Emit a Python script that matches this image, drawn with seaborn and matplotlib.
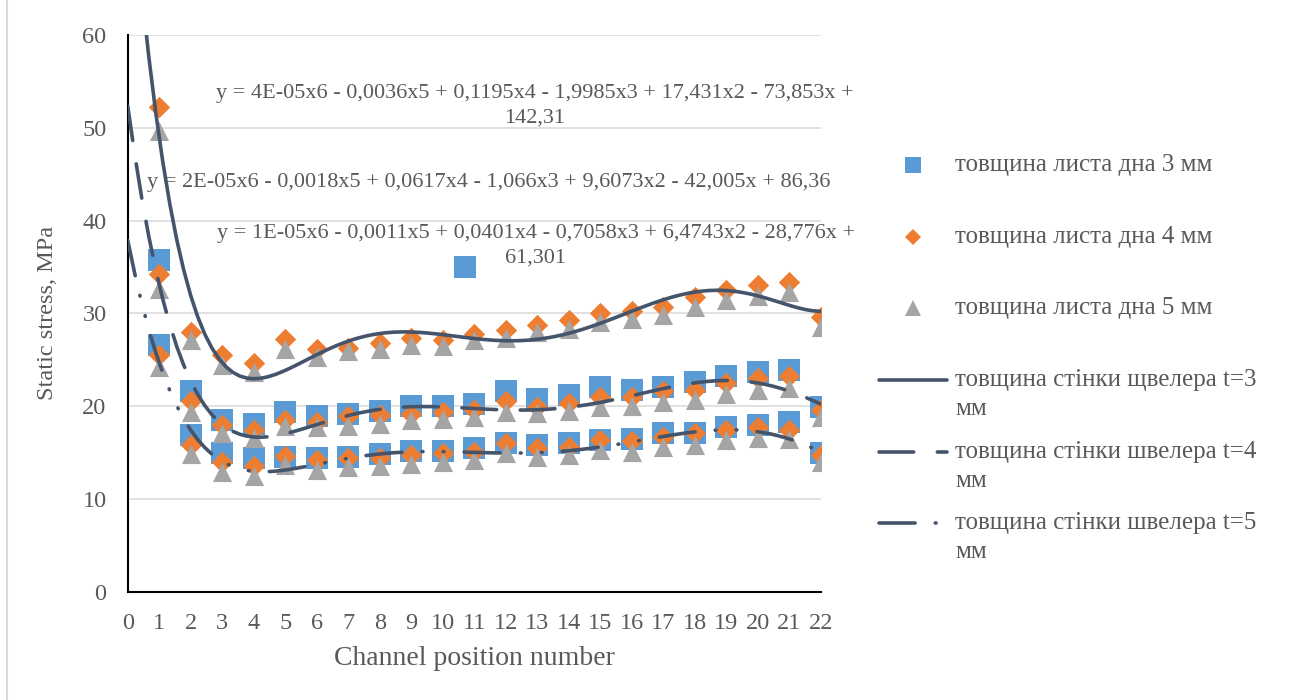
import numpy as np
import pandas as pd
import matplotlib
matplotlib.use("Agg")
import matplotlib.pyplot as plt
from matplotlib.lines import Line2D
import seaborn as sns

# Channel positions along the tank bottom
positions = list(range(1, 23))

# Static stress, MPa. Keys: bottom sheet thickness (mm); groups: channel wall thickness t (mm)
# wall t=3 mm
sheet4_t3 = [52.2, 28.0, 25.5, 24.7, 27.2, 26.2, 26.3, 26.8, 27.3, 27.1, 27.8,
             28.2, 28.7, 29.3, 30.0, 30.3, 30.7, 31.8, 32.5, 33.0, 33.4, 29.6]
sheet5_t3 = [49.7, 27.1, 24.4, 23.7, 26.2, 25.3, 25.9, 26.2, 26.6, 26.5, 27.1,
             27.3, 28.0, 28.3, 29.1, 29.4, 29.8, 30.7, 31.4, 31.9, 32.3, 28.5]
# wall t=4 mm
sheet3_t4 = [35.7, 21.6, 18.5, 18.1, 19.4, 18.9, 19.1, 19.5, 20.0, 20.0, 20.2,
             21.6, 20.8, 21.2, 22.1, 21.7, 22.1, 22.6, 23.2, 23.7, 23.9, 19.9]
sheet4_t4 = [34.2, 20.5, 18.0, 17.4, 18.5, 18.3, 18.9, 19.0, 19.2, 19.4, 19.6,
             20.5, 19.9, 20.3, 21.0, 21.0, 21.6, 21.7, 22.5, 23.0, 23.2, 19.6]
sheet5_t4 = [32.6, 19.4, 17.1, 16.6, 17.9, 17.7, 17.9, 18.1, 18.5, 18.6, 18.8,
             19.4, 19.3, 19.5, 19.9, 20.0, 20.4, 20.7, 21.3, 21.7, 22.0, 18.8]
# wall t=5 mm
sheet3_t5 = [26.6, 16.9, 15.0, 14.4, 14.5, 14.4, 14.5, 14.8, 15.2, 15.2, 15.5,
             16.0, 15.8, 16.0, 16.3, 16.5, 17.1, 17.1, 17.7, 18.0, 18.3, 14.9]
sheet4_t5 = [25.5, 15.8, 14.0, 13.5, 14.6, 14.2, 14.4, 14.4, 14.7, 14.9, 15.1,
             16.0, 15.5, 15.6, 16.3, 16.2, 16.7, 17.1, 17.4, 17.8, 17.4, 14.7]
sheet5_t5 = [24.2, 14.8, 12.9, 12.5, 13.7, 13.1, 13.4, 13.6, 13.8, 14.0, 14.2,
             14.9, 14.5, 14.7, 15.3, 15.1, 15.6, 15.8, 16.3, 16.6, 16.5, 14.0]
# single extra point of the 3 mm sheet series
extra_x = [10.7]
extra_y = [35.0]

sheet_labels = ["товщина листа дна 3 мм", "товщина листа дна 4 мм", "товщина листа дна 5 мм"]
wall_labels = ["товщина стінки щвелера t=3\nмм", "товщина стінки швелера t=4\nмм",
               "товщина стінки швелера t=5\nмм"]
equations = [
    "y = 4E-05x6 - 0,0036x5 + 0,1195x4 - 1,9985x3 + 17,431x2 - 73,853x +\n142,31",
    "y = 2E-05x6 - 0,0018x5 + 0,0617x4 - 1,066x3 + 9,6073x2 - 42,005x + 86,36",
    "y = 1E-05x6 - 0,0011x5 + 0,0401x4 - 0,7058x3 + 6,4743x2 - 28,776x +\n61,301",
]
y_ticks = [0, 10, 20, 30, 40, 50, 60]
x_ticks = list(range(0, 23))

rows = []
for sheet, wall, vals in [(3, 4, sheet3_t4), (3, 5, sheet3_t5),
                          (4, 3, sheet4_t3), (4, 4, sheet4_t4), (4, 5, sheet4_t5),
                          (5, 3, sheet5_t3), (5, 4, sheet5_t4), (5, 5, sheet5_t5)]:
    for p, v in zip(positions, vals):
        rows.append({"position": p, "stress": v, "sheet": sheet, "wall": wall})
for p, v in zip(extra_x, extra_y):
    rows.append({"position": p, "stress": v, "sheet": 3, "wall": 0})
df = pd.DataFrame(rows)

sns.set_theme(style="white")
plt.rcParams["font.family"] = ["Liberation Serif", "DejaVu Serif"]
plt.rcParams["lines.scale_dashes"] = False

TEXT = "#595959"
LINE = "#44546A"
LW = 2.6
sheet_colors = {3: "#5B9BD5", 4: "#ED7D31", 5: "#A5A5A5"}
sheet_markers = {3: "s", 4: "D", 5: "^"}
sheet_sizes = {3: 235, 4: 118, 5: 190}
wall_styles = {
    3: "-",
    4: (0, (25.0, 17.0)),
    5: (0, (26.0, 14.5, 0.6, 14.5, 0.6, 14.5)),
}

fig = plt.figure(figsize=(12.93, 7.0), dpi=100)
ax = fig.add_axes([0.0988, 0.1547, 0.5359, 0.7954])
ax.set_xlim(0, 22)
ax.set_ylim(0, 60)

for sheet in (3, 4, 5):
    sub = df[df["sheet"] == sheet]
    sns.scatterplot(data=sub, x="position", y="stress", marker=sheet_markers[sheet],
                    s=sheet_sizes[sheet], color=sheet_colors[sheet], linewidth=0,
                    ax=ax, zorder=3 + sheet * 0.1, legend=False)

for wall in (3, 4, 5):
    sub = df[df["wall"] == wall]
    sns.regplot(data=sub, x="position", y="stress", order=6, scatter=False, ci=None,
                truncate=False, ax=ax,
                line_kws=dict(color=LINE, lw=LW, linestyle=wall_styles[wall],
                              dash_capstyle="round", solid_capstyle="round", zorder=5))

ax.set_xlim(0, 22)
ax.set_ylim(0, 60)

# trendline equations
eq_pos = [(12.93, 52.4), (11.47, 44.15), (12.96, 37.25)]
for (ex, ey), txt in zip(eq_pos, equations):
    ax.text(ex, ey, txt, ha="center", va="center", multialignment="center",
            fontsize=16, color=TEXT, zorder=6, linespacing=1.4)

ax.set_xticks(x_ticks)
ax.set_yticks(y_ticks)
ax.grid(axis="y", color="#D9D9D9", lw=1.1)
ax.grid(axis="x", visible=False)
ax.set_axisbelow(True)
for side in ("top", "right"):
    ax.spines[side].set_visible(False)
for side in ("left", "bottom"):
    ax.spines[side].set_color("black")
    ax.spines[side].set_linewidth(1.5)
ax.tick_params(axis="both", direction="inout", length=10.5, width=1.5, color="black",
               labelsize=17.5, labelcolor=TEXT, pad=10)

ax.set_xlabel("Channel position number", fontsize=20, color=TEXT)
ax.set_ylabel("Static stress, MPa", fontsize=17.5, color=TEXT)
ax.xaxis.set_label_coords(0.501, -0.097)
ax.yaxis.set_label_coords(-0.1, 0.5)

# legend drawn at fixed positions to the right of the plot
W, H = 1293.0, 700.0
def fx(px):
    return px / W
def fy(py):
    return 1 - py / H

entry_y = [165, 237, 308, 380, 452, 523]
for i, sheet in enumerate((3, 4, 5)):
    fig.add_artist(Line2D([fx(913)], [fy(entry_y[i])], marker=sheet_markers[sheet],
                          markersize={3: 11, 4: 8, 5: 11}[sheet], color=sheet_colors[sheet],
                          markeredgewidth=0, linestyle="none"))
    fig.text(fx(955), fy(entry_y[i]), sheet_labels[i], ha="left", va="center",
             fontsize=18, color=TEXT)
for j, wall in enumerate((3, 4, 5)):
    yy = entry_y[3 + j]
    fig.add_artist(Line2D([fx(879), fx(947)], [fy(yy), fy(yy)], color=LINE, lw=LW,
                          linestyle=wall_styles[wall], dash_capstyle="round",
                          solid_capstyle="round"))
    first, second = wall_labels[j].split("\n")
    fig.text(fx(955), fy(yy), first, ha="left", va="center", fontsize=18, color=TEXT)
    fig.text(fx(955), fy(yy + 29), second, ha="left", va="center", fontsize=18, color=TEXT)

# chart area border
fig.add_artist(Line2D([fx(7), fx(7)], [0, 1], color="#D9D9D9", lw=1.5))

fig.savefig("out.png", dpi=100)
